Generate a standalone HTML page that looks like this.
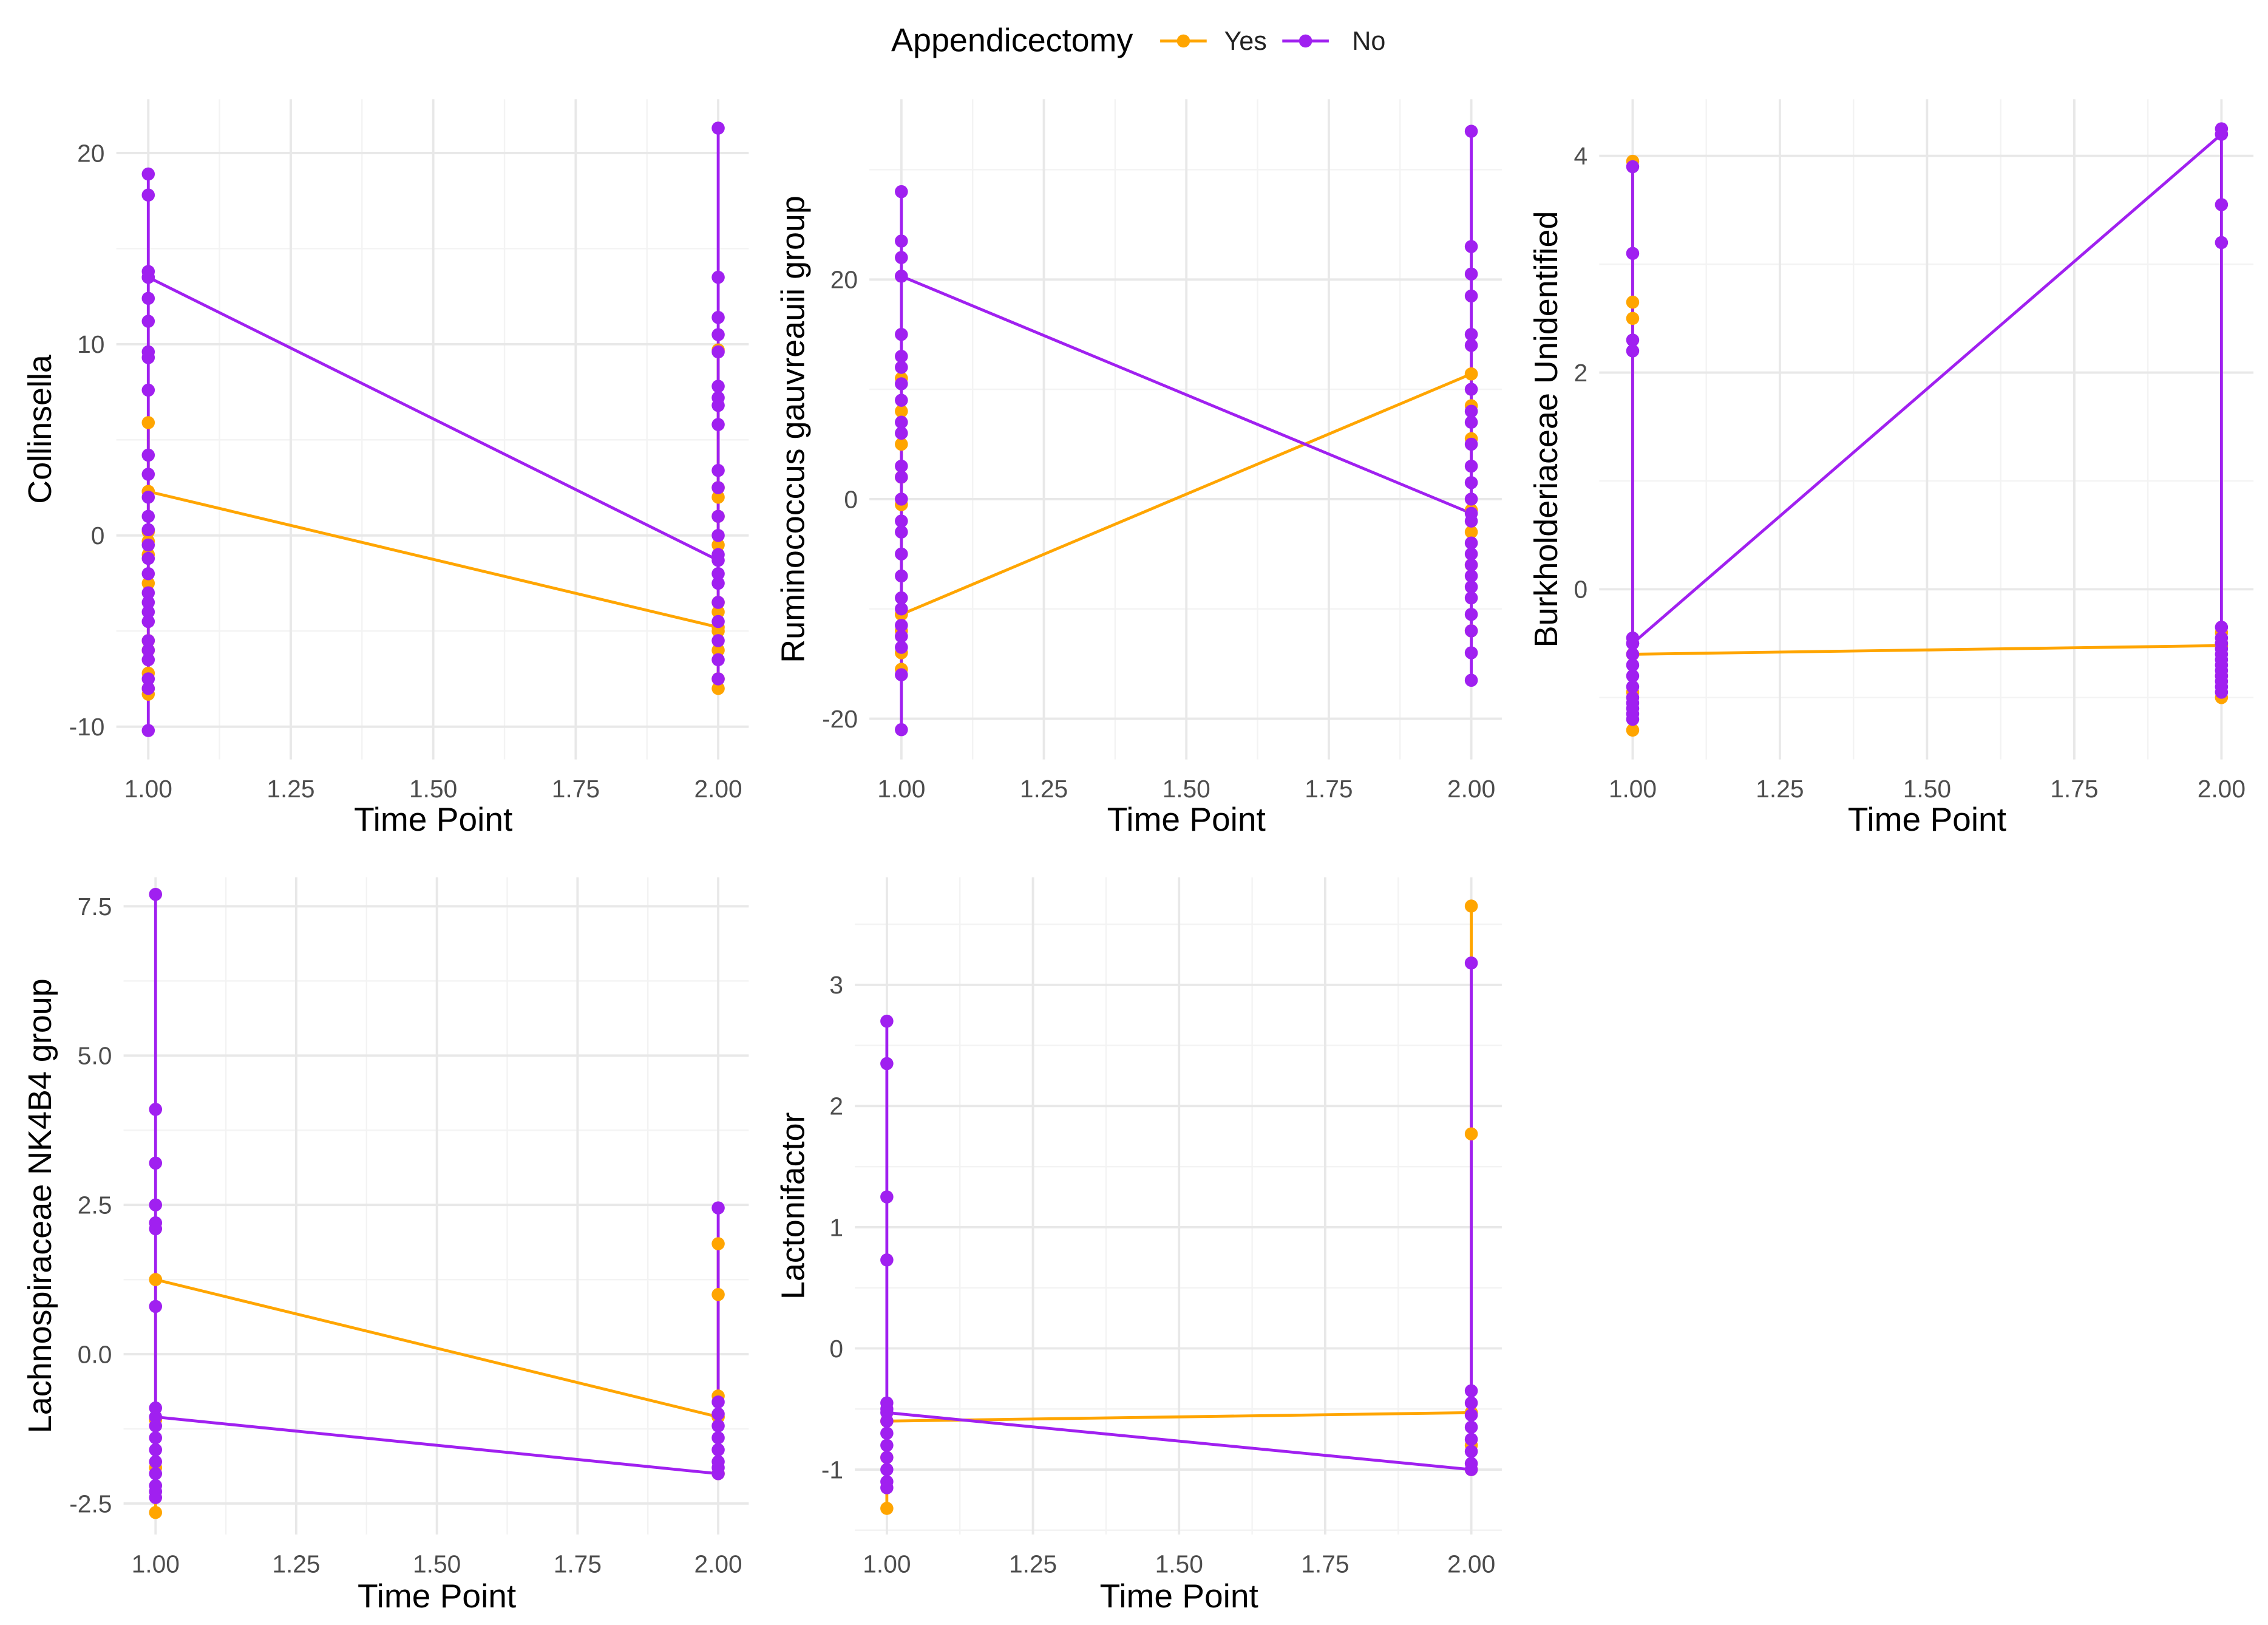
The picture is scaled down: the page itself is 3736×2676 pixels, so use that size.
<!DOCTYPE html>
<html><head><meta charset="utf-8">
<style>
html,body{margin:0;padding:0;background:#fff;}
svg{display:block;font-family:"Liberation Sans",sans-serif;}
</style></head>
<body>
<svg id="chart" width="3736" height="2676" viewBox="0 0 1560 1117" xmlns="http://www.w3.org/2000/svg">
<g>
<text x="613" y="35" font-size="22.5" fill="#000">Appendicectomy</text>
<line x1="798" y1="28" x2="830" y2="28" stroke="#FFA500" stroke-width="2"/>
<circle cx="814" cy="28" r="4.5" fill="#FFA500"/>
<text x="842" y="34" font-size="18" fill="#222">Yes</text>
<line x1="882" y1="28" x2="914" y2="28" stroke="#A020F0" stroke-width="2"/>
<circle cx="898" cy="28" r="4.5" fill="#A020F0"/>
<text x="930" y="34" font-size="18" fill="#222">No</text>
</g>
</svg>
<script>
// ---- data ----
const panelTitles = ["Collinsella","Ruminococcus gauvreauii group","Burkholderiaceae Unidentified","Lachnospiraceae NK4B4 group","Lactonifactor"];
const timePoints = [1, 2];
const xTickLabels = ["1.00","1.25","1.50","1.75","2.00"];
const xTickValues = [1, 1.25, 1.5, 1.75, 2];
const yTicks1 = [-10, 0, 10, 20];
const yTicks2 = [-20, 0, 20];
const yTicks3 = [0, 2, 4];
const yTicks4 = [-2.5, 0, 2.5, 5, 7.5];
const yTicks5 = [-1, 0, 1, 2, 3];
const yTickLabels4 = ["-2.5","0.0","2.5","5.0","7.5"];
const meanNo1 = [13.5, -1.3];
const meanYes1 = [2.3, -4.8];
const meanNo2 = [20.3, -1.3];
const meanYes2 = [-10.5, 11.4];
const meanNo3 = [-0.5, 4.2];
const meanYes3 = [-0.6, -0.52];
const meanNo4 = [-1.05, -2.0];
const meanYes4 = [1.25, -1.05];
const meanNo5 = [-0.53, -1.0];
const meanYes5 = [-0.6, -0.53];
const noT1_1 = [18.9,17.8,13.8,13.5,12.4,11.2,9.6,9.3,7.6,4.2,3.2,2.0,1.0,0.3,-0.5,-1.2,-2,-3,-3.5,-4,-4.5,-5.5,-6,-6.5,-7.5,-8,-10.2];
const yesT1_1 = [5.9,2.3,0.2,-0.3,-1,-2.5,-5.5,-6,-7.2,-8,-8.3];
const noT2_1 = [21.3,13.5,11.4,10.5,9.6,7.8,7.2,6.8,5.8,3.4,2.5,1,0,-1,-2,-2.5,-3.5,-4.5,-5.5,-6.5,-7.5];
const yesT2_1 = [9.7,2.5,2,1,-0.5,-3.5,-4,-5,-6,-7.5,-8];
const noT1_2 = [28,23.5,22,20.3,15,13,12,10.5,9,7,6,3,2,0,-2,-3,-5,-7,-9,-10,-11.5,-12.5,-13.5,-16,-21];
const yesT1_2 = [11,8,5,2,-0.5,-10.5,-12,-14,-15.5];
const noT2_2 = [33.5,23,20.5,18.5,15,14,10,8,7,5,3,1.5,0,-2,-4,-5,-6,-7,-8,-9,-10.5,-12,-14,-16.5];
const yesT2_2 = [11.4,8.5,5.5,-1,-3,-6,-12];
const noT1_3 = [3.9,3.1,2.3,2.2,-0.45,-0.5,-0.6,-0.7,-0.8,-0.9,-1,-1.05,-1.1,-1.15,-1.2];
const yesT1_3 = [3.95,2.65,2.5,-0.6,-0.95,-1.3];
const noT2_3 = [4.25,4.2,3.55,3.2,-0.35,-0.45,-0.5,-0.55,-0.6,-0.65,-0.7,-0.75,-0.8,-0.85,-0.9,-0.95];
const yesT2_3 = [-0.4,-0.52,-0.8,-1,-0.5];
const noT1_4 = [7.7,4.1,3.2,2.5,2.2,2.1,0.8,-0.9,-1.2,-1.4,-1.6,-1.8,-2,-2.2,-2.3,-2.4];
const yesT1_4 = [1.25,-1.1,-1.9,-2.65];
const noT2_4 = [2.45,-0.8,-1,-1.2,-1.4,-1.6,-1.8,-1.9];
const yesT2_4 = [1.85,1.0,-0.7,-1.05,-2.0];
const noT1_5 = [2.7,2.35,1.25,0.73,-0.45,-0.5,-0.6,-0.7,-0.8,-0.9,-1,-1.1,-1.15];
const yesT1_5 = [-0.6,-0.9,-1.32];
const noT2_5 = [3.18,-0.35,-0.45,-0.55,-0.65,-0.75,-0.85,-0.95];
const yesT2_5 = [3.65,1.77,-0.53,-0.8,-1];

const NS = "http://www.w3.org/2000/svg";
const svg = document.getElementById("chart");
const ORANGE = "#FFA500", PURPLE = "#A020F0";

function mk(tag, attrs, parent){
  const e = document.createElementNS(NS, tag);
  for (const k in attrs) e.setAttribute(k, attrs[k]);
  parent.appendChild(e);
  return e;
}

const layouts = [
  {left:80, right:515, top:68, bottom:522, x1:102, x2:494, yv:[0,20], yp:[368,105], ticks:yTicks1, tlab:null, titleX:27, xtitleY:574},
  {left:598, right:1033, top:68, bottom:522, x1:620, x2:1012, yv:[0,20], yp:[343,192], ticks:yTicks2, tlab:null, titleX:545, xtitleY:574},
  {left:1100, right:1550, top:68, bottom:522, x1:1123, x2:1528, yv:[0,4], yp:[405,107], ticks:yTicks3, tlab:null, titleX:1063, xtitleY:574},
  {left:85, right:515, top:603, bottom:1055, x1:107, x2:494, yv:[0,7.5], yp:[931,623], ticks:yTicks4, tlab:yTickLabels4, titleX:27, xtitleY:1108},
  {left:588, right:1033, top:603, bottom:1055, x1:610, x2:1012, yv:[0,3], yp:[927,677], ticks:yTicks5, tlab:null, titleX:545, xtitleY:1108}
];
const means = [[meanNo1,meanYes1],[meanNo2,meanYes2],[meanNo3,meanYes3],[meanNo4,meanYes4],[meanNo5,meanYes5]];
const pts = [
  [noT1_1,yesT1_1,noT2_1,yesT2_1],[noT1_2,yesT1_2,noT2_2,yesT2_2],[noT1_3,yesT1_3,noT2_3,yesT2_3],
  [noT1_4,yesT1_4,noT2_4,yesT2_4],[noT1_5,yesT1_5,noT2_5,yesT2_5]
];

layouts.forEach((L, i) => {
  const g = mk("g", {}, svg);
  
  
  const xs = v => L.x1 + (v - 1) * (L.x2 - L.x1);
  const k = (L.yp[1] - L.yp[0]) / (L.yv[1] - L.yv[0]);
  const ys = v => L.yp[0] + (v - L.yv[0]) * k;

  for (let j = 0; j < xTickValues.length - 1; j++) {
    const xm = xs((xTickValues[j] + xTickValues[j+1]) / 2);
    const ln = mk("line", {x1:xm, x2:xm, y1:L.top, y2:L.bottom, stroke:"#f3f3f3", "stroke-width":1}, g);
    
    
  }
  const step = L.ticks[1] - L.ticks[0];
  for (let v = L.ticks[0] - step/2; ; v += step) {
    const y = ys(v);
    if (y < L.top) break;
    if (y <= L.bottom) {
      const ln = mk("line", {x1:L.left, x2:L.right, y1:y, y2:y, stroke:"#f3f3f3", "stroke-width":1}, g);
      
      
    }
  }
  xTickValues.forEach((v, j) => {
    const ln = mk("line", {x1:xs(v), x2:xs(v), y1:L.top, y2:L.bottom, stroke:"#e8e8e8", "stroke-width":1.6}, g);
    
    
    const t = mk("text", {x:xs(v), y:L.bottom + 26, "font-size":17, fill:"#4d4d4d", "text-anchor":"middle"}, g);
    t.textContent = xTickLabels[j];
    
    
  });
  L.ticks.forEach((v, j) => {
    const ln = mk("line", {x1:L.left, x2:L.right, y1:ys(v), y2:ys(v), stroke:"#e8e8e8", "stroke-width":1.6}, g);
    
    
    const t = mk("text", {x:L.left - 8, y:ys(v) + 6, "font-size":17, fill:"#4d4d4d", "text-anchor":"end"}, g);
    t.textContent = L.tlab ? L.tlab[j] : String(v);
    
    
  });
  const xt = mk("text", {x:(L.x1 + L.x2)/2, y:L.xtitleY - 3, "font-size":23, fill:"#000", "text-anchor":"middle"}, g);
  xt.textContent = "Time Point";
  
  
  const cy = (L.top + L.bottom) / 2;
  const yt = mk("text", {x:L.titleX + 8, y:cy, "font-size":22.5, fill:"#000", "text-anchor":"middle", transform:"rotate(-90 " + (L.titleX+8) + " " + cy + ")"}, g);
  yt.textContent = panelTitles[i];
  
  

  const P = pts[i];
  const seriesDefs = [
    {vals:[P[1], P[3]], mean:means[i][1], color:ORANGE, name:"yes"},
    {vals:[P[0], P[2]], mean:means[i][0], color:PURPLE, name:"no"}
  ];
  seriesDefs.forEach(s => {
    s.vals.forEach((arr, ti) => {
      const x = xs(timePoints[ti]);
      const ln = mk("line", {x1:x, x2:x, y1:ys(Math.max(...arr)), y2:ys(Math.min(...arr)), stroke:s.color, "stroke-width":2}, g);
      
      
    });
    const ml = mk("line", {x1:xs(timePoints[0]), y1:ys(s.mean[0]), x2:xs(timePoints[1]), y2:ys(s.mean[1]), stroke:s.color, "stroke-width":2}, g);
    
    
  });
  seriesDefs.forEach(s => {
    s.vals.forEach((arr, ti) => {
      arr.forEach(v => {
        const c = mk("circle", {cx:xs(timePoints[ti]), cy:ys(v), r:4.5, fill:s.color}, g);
        
        
      });
    });
    s.mean.forEach((v, ti) => {
      const c = mk("circle", {cx:xs(timePoints[ti]), cy:ys(v), r:4.5, fill:s.color}, g);
      
      
    });
  });
});
</script>
</body></html>
